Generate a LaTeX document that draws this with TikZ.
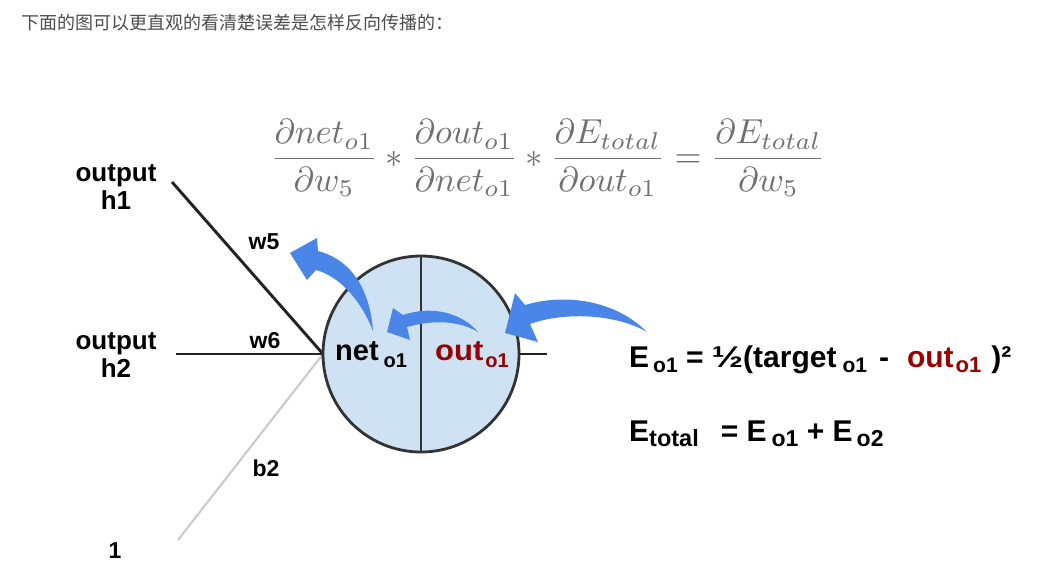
\documentclass[tikz,border=0pt]{standalone}
\usepackage[no-math]{fontspec}
\setmainfont{Liberation Sans}
\newfontfamily\cjk{Noto Sans CJK SC}
\usepackage{graphicx}
\definecolor{arrowblue}{HTML}{4A86E8}
\definecolor{cellfill}{HTML}{CFE2F3}
\definecolor{darkred}{HTML}{990000}
\definecolor{formulagray}{HTML}{707070}
\definecolor{linedark}{HTML}{222222}
\definecolor{circleborder}{HTML}{333333}
\definecolor{biasgray}{HTML}{CCCCCC}
\definecolor{captiongray}{HTML}{4D4D4D}
\newcommand\fsz[1]{\fontsize{#1}{#1}\selectfont}
\newcommand\lsub[3]{\raisebox{-#1}{\fsz{#2}#3}}
\begin{document}
\begin{tikzpicture}[x=1pt,y=-1pt,
  inputlbl/.style={font=\bfseries\fontsize{26}{28}\selectfont, inner sep=0, align=center},
  weightlbl/.style={font=\bfseries\fsz{23}, inner sep=0},
  celltext/.style={font=\bfseries\fsz{29}, inner sep=0, anchor=base west},
  eqtext/.style={font=\bfseries\fsz{30}, inner sep=0, anchor=base west},
  wire/.style={draw=linedark, line width=2.9pt},
  biaswire/.style={draw=biasgray, line width=2.2pt},
  backarrow/.style={fill=arrowblue}
]
\useasboundingbox (0,0) rectangle (1059,582);
\fill[white] (0,0) rectangle (1059,582);

% caption
\node[anchor=base west, inner sep=0, text=captiongray, font=\cjk\fsz{18}] (caption) at (21,29) {下面的图可以更直观的看清楚误差是怎样反向传播的：};

% chain-rule formula
\node[inner sep=0, text=formulagray] (chain) at (548,158)
  {\resizebox{555pt}{!}{$\displaystyle \frac{\partial net_{o1}}{\partial w_5} * \frac{\partial out_{o1}}{\partial net_{o1}} * \frac{\partial E_{total}}{\partial out_{o1}} = \frac{\partial E_{total}}{\partial w_5}$}};

% neuron
\coordinate (c) at (421,354);
\coordinate (cw) at (323,354);
\coordinate (ce) at (519,354);
\coordinate (ctop) at (421,256);
\coordinate (cbot) at (421,452);
\coordinate (h1end) at (172,182);
\coordinate (h2end) at (176,354);
\coordinate (oneend) at (178,540);
\coordinate (stub) at (547,354);

\draw[biaswire] (cw) -- (oneend);
\draw[wire] (h1end) -- (cw);
\draw[wire] (h2end) -- (cw);
\draw[wire] (ce) -- (stub);
\draw[fill=cellfill, draw=circleborder, line width=2.8pt] (c) circle[radius=98];
\draw[draw=circleborder, line width=2.8pt] (ctop) -- (cbot);

% labels
\node[inputlbl] (h1) at (116,187) {output\\h1};
\node[inputlbl] (h2) at (116,355) {output\\h2};
\node[weightlbl] (one) at (115,551) {1};
\node[weightlbl] (w5) at (264,242) {w5};
\node[weightlbl] (w6) at (265,341) {w6};
\node[weightlbl] (b2) at (266,468) {b2};

% cell texts
\node[celltext] (net) at (335,360) {net\hspace{5pt}\lsub{7pt}{20}{o1}};
\node[celltext, text=darkred] (out) at (435,360) {\scalebox{1.07}[1]{out}\hspace{2pt}\lsub{7pt}{20}{o1}};

% blue back-propagation arrows
\fill[backarrow] (647,332) .. controls (615,300) and (565,293) .. (525,305) -- (515,293) -- (505,333) -- (538,342) -- (530,324) .. controls (560,313) and (612,312) .. cycle;
\fill[backarrow] (478,332) .. controls (462,313) and (432,305) .. (403,315) -- (393,308) -- (387,332) -- (410,340) -- (407,327) .. controls (432,320) and (458,320) .. cycle;
\fill[backarrow] (373,331) .. controls (370,290) and (352,260) .. (318,251) -- (317,238) -- (290,253) -- (307,280) -- (316,270) .. controls (338,276) and (360,298) .. cycle;

% error equations
\node[eqtext] (eo1) at (629,367) {E\hspace{4pt}\lsub{5pt}{21}{o1} = \scalebox{1.25}[1]{½}(target\hspace{6pt}\lsub{5pt}{21}{o1}\hspace{12pt}-\hspace{18pt}\textcolor{darkred}{out\hspace{2pt}\lsub{5pt}{22}{o1}}\hspace{10pt})²};
\node[eqtext] (etot) at (629,441) {E\lsub{5pt}{23.5}{total}\hspace{22pt}= E\hspace{5pt}\lsub{5pt}{23}{o1} + E\hspace{4pt}\lsub{5pt}{23}{o2}};
\end{tikzpicture}
\end{document}
